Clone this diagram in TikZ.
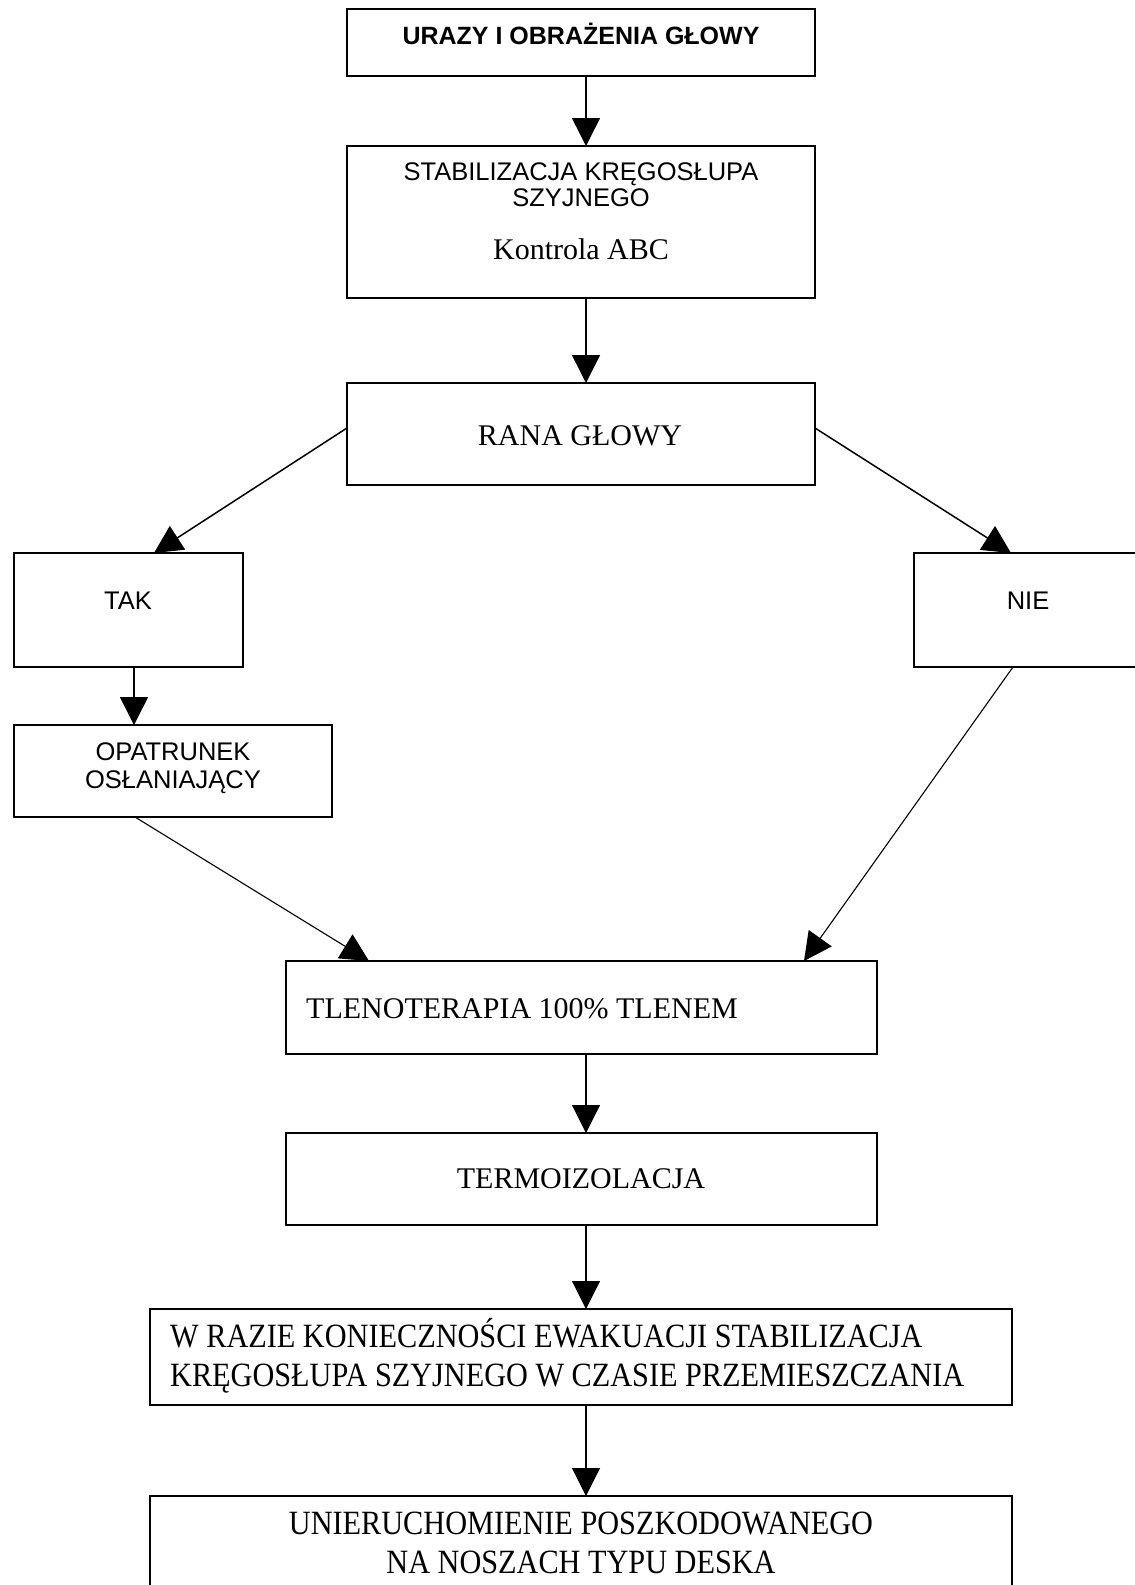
\documentclass[tikz,border=0pt]{standalone}
\usepackage{fontspec}
\setmainfont{Liberation Serif}
\setsansfont{Liberation Sans}
\newfontfamily\condserif[FakeStretch=0.89]{Liberation Serif}
\usetikzlibrary{arrows.meta,calc}
\begin{document}
\begin{tikzpicture}[x=1pt,y=-1pt,
  box/.style={draw,line width=1.6pt,rectangle,inner sep=0pt,outer sep=0pt},
  lbox/.style={draw,line width=1.1pt,rectangle,inner sep=0pt,outer sep=0pt},
  arr/.style={line width=1.5pt,-{Triangle[width=28pt,length=28pt]}},
  larr/.style={line width=1.1pt,-{Triangle[width=28pt,length=28pt]}},
  sanst/.style={font=\sffamily\fontsize{25.5}{27}\selectfont,inner sep=0pt,anchor=base},
  boldt/.style={font=\sffamily\bfseries\fontsize{25}{27}\selectfont,inner sep=0pt,anchor=base},
  serift/.style={font=\rmfamily\fontsize{30}{33}\selectfont,inner sep=0pt,anchor=base},
  condt/.style={font=\condserif\fontsize{34}{37}\selectfont,inner sep=0pt,anchor=base}]
\useasboundingbox[fill=white] (0,0) rectangle (1135,1585);

% boxes
\node[box,minimum width=468pt,minimum height=67pt] (b1) at (581,42.5) {};
\node[box,minimum width=468pt,minimum height=152pt] (b2) at (581,222) {};
\node[box,minimum width=468pt,minimum height=102pt] (b3) at (581,434) {};
\node[box,minimum width=229pt,minimum height=114pt] (tak) at (128.5,610) {};
\node[box,minimum width=246pt,minimum height=114pt] (nie) at (1037,610) {};
\node[box,minimum width=318pt,minimum height=92pt] (opat) at (173,771) {};
\node[lbox,minimum width=591pt,minimum height=93pt] (tl) at (581.5,1007.5) {};
\node[lbox,minimum width=591pt,minimum height=92pt] (te) at (581.5,1179) {};
\node[lbox,minimum width=862pt,minimum height=96pt] (wr) at (581,1357) {};
\node[lbox,minimum width=862pt,minimum height=124pt] (un) at (581,1558) {};

% texts
\node[boldt] (t1) at (581,44) {URAZY I OBRAŻENIA GŁOWY};
\node[sanst] (t2a) at (581,180) {STABILIZACJA KRĘGOSŁUPA};
\node[sanst] (t2b) at (581,206) {SZYJNEGO};
\node[serift] (t2c) at (581,259) {Kontrola ABC};
\node[serift] (t3) at (580,445) {RANA GŁOWY};
\node[sanst] (t4) at (128,609) {TAK};
\node[sanst] (t5) at (1028,609) {NIE};
\node[sanst] (t6a) at (173,760) {OPATRUNEK};
\node[sanst] (t6b) at (173,788) {OSŁANIAJĄCY};
\node[serift,anchor=base west] (t7) at (306,1018) {TLENOTERAPIA 100\% TLENEM};
\node[serift] (t8) at (581,1188) {TERMOIZOLACJA};
\node[condt,anchor=base west] (t9a) at (170,1347) {W RAZIE KONIECZNOŚCI EWAKUACJI STABILIZACJA};
\node[condt,anchor=base west] (t9b) at (170,1386) {KRĘGOSŁUPA SZYJNEGO W CZASIE PRZEMIESZCZANIA};
\node[condt] (t10a) at (581,1534) {UNIERUCHOMIENIE POSZKODOWANEGO};
\node[condt] (t10b) at (581,1573) {NA NOSZACH TYPU DESKA};

% connector x positions
\coordinate (xa) at (586,0);
\coordinate (xt) at (134,0);

% vertical arrows
\draw[arr] (b1.south -| xa) -- (b2.north -| xa);
\draw[arr] (b2.south -| xa) -- (b3.north -| xa);
\draw[arr] (tak.south -| xt) -- (opat.north -| xt);
\draw[larr] (tl.south -| xa) -- (te.north -| xa);
\draw[larr] (te.south -| xa) -- (wr.north -| xa);
\draw[larr] (wr.south -| xa) -- (un.north -| xa);

% diagonal arrows
\draw[arr] ($(b3.west)+(0,-6)$) -- ($(tak.north west)+(140,0)$);
\draw[arr] ($(b3.east)+(0,-6)$) -- ($(nie.north west)+(97,0)$);
\draw[larr] ($(opat.south west)+(121,0)$) -- ($(tl.north west)+(83,0)$);
\draw[larr] ($(nie.south west)+(99,0)$) -- ($(tl.north west)+(518,0)$);
\end{tikzpicture}
\end{document}
